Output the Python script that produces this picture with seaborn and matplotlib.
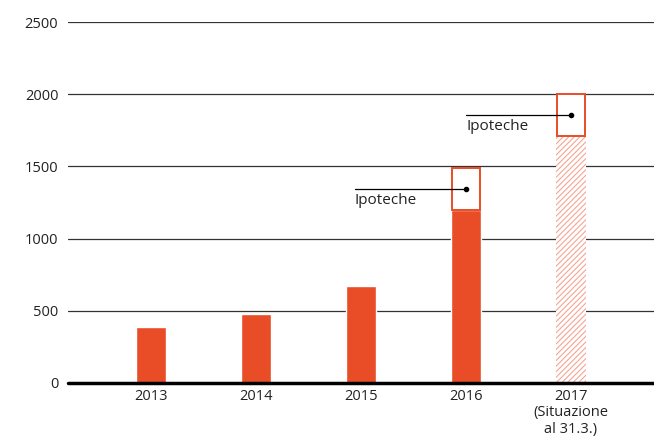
import pandas as pd
import seaborn as sb
import matplotlib.pyplot as plt

# Data
years = ['2013', '2014', '2015', '2016', '2017']
year_labels = ['2013', '2014', '2015', '2016', '2017\n(Situazione\nal 31.3.)']
base_values = [390, 480, 675, 1195, 1710]
mortgage_values = [0, 0, 0, 295, 290]
mortgage_label = 'Ipoteche'
y_ticks = [0, 500, 1000, 1500, 2000, 2500]

red = '#e84d27'
hatch_red = '#f5a593'

sb.set_style('white')
plt.rcParams['font.family'] = ['Open Sans', 'DejaVu Sans']
plt.rcParams['hatch.linewidth'] = 0.8

df = pd.DataFrame({'year': years, 'value': base_values})

fig = plt.figure(figsize=(6.54, 4.45), dpi=100)
ax = fig.add_axes([68 / 654, 62 / 445, 586 / 654, 361 / 445])

# Gridlines behind bars
for t in y_ticks[1:]:
    ax.axhline(t, color='#333333', lw=0.9, zorder=0)

sb.barplot(data=df, x='year', y='value', color=red, width=0.29,
           saturation=1, ax=ax, zorder=2)

# 2017 as a hatched (provisional) bar
last = ax.patches[-1]
last.set_facecolor('white')
last.set_edgecolor(hatch_red)
last.set_hatch('//////')
last.set_linewidth(0)

# Mortgage boxes on top
for i, (b, m) in enumerate(zip(base_values, mortgage_values)):
    if m > 0:
        ax.bar(i, m, bottom=b, width=0.27, facecolor='white',
               edgecolor=red, lw=1.4, zorder=3)

# Annotations
ann = [(3, 1490 - 145, 3 - 1.06), (4, 2000 - 145, 4 - 1.0)]
for i, y, x0 in ann:
    ax.plot([x0, i], [y, y], color='black', lw=0.9, zorder=4)
    ax.plot(i, y, 'o', color='black', ms=3, zorder=5)
    ax.text(x0, y - 30, mortgage_label, ha='left', va='top', fontsize=11,
            color='#222222', zorder=5)

ax.axhline(0, color='black', lw=2.5, zorder=5, clip_on=False)

ax.set_xlim(-0.79, 4.79)
ax.set_ylim(0, 2500)
ax.set_yticks(y_ticks)
ax.set_xticks(range(len(years)))
ax.set_xticklabels(year_labels, fontsize=10.5, color='#222222', linespacing=1.15)
ax.tick_params(axis='y', labelsize=10.5, colors='#222222', length=0, pad=7)
ax.tick_params(axis='x', length=0, pad=4)
ax.set_xlabel('')
ax.set_ylabel('')
sb.despine(ax=ax, left=True, bottom=True)

fig.savefig('out.png', dpi=100)
